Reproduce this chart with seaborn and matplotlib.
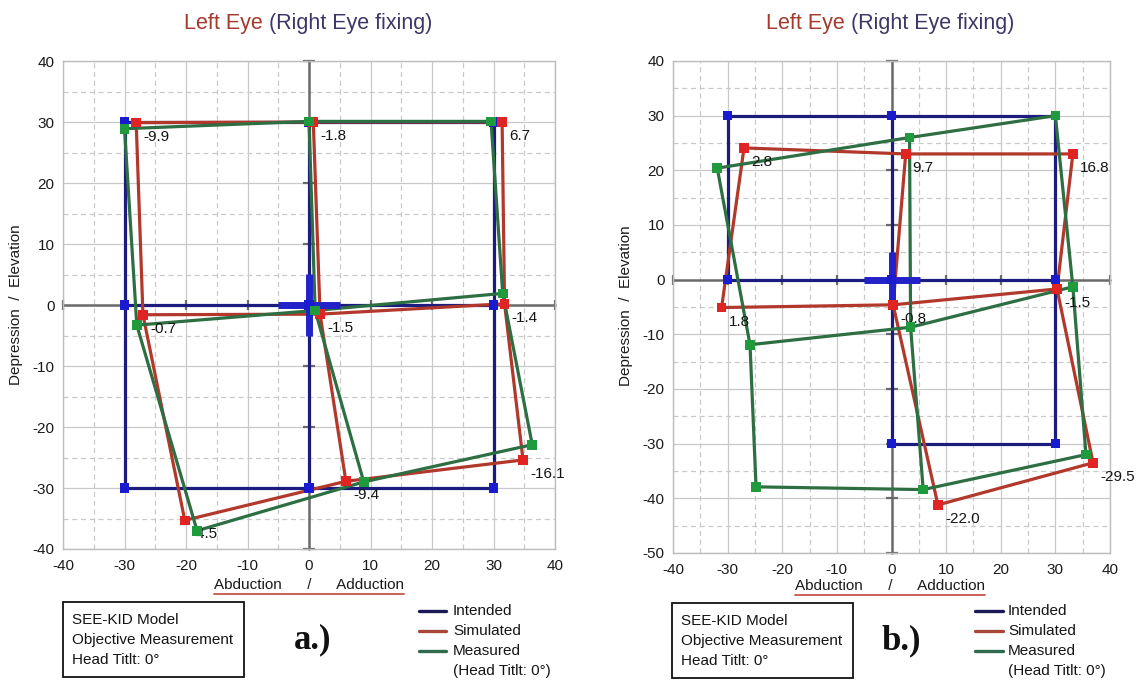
import numpy as np
import pandas as pd
import matplotlib
matplotlib.use("Agg")
import matplotlib.pyplot as plt
import seaborn as sns
from matplotlib.lines import Line2D
from matplotlib.patches import Rectangle

# ---------------- data ----------------
# 3x3 gaze-position grid, row-major: TL, TM, TR, ML, C, MR, BL, BM, BR
point_rows = [0, 0, 0, 1, 1, 1, 2, 2, 2]
point_cols = [0, 1, 2, 0, 1, 2, 0, 1, 2]
series_names = ["Intended", "Simulated", "Measured"]

a_intended_x = [-30, 0, 30, -30, 0, 30, -30, 0, 30]
a_intended_y = [30, 30, 30, 0, 0, 0, -30, -30, -30]
a_simulated_x = [-28.1, 0.7, 31.4, -27.0, 1.8, 31.8, -20.2, 6.0, 34.8]
a_simulated_y = [29.9, 30.0, 30.0, -1.6, -1.5, 0.2, -35.3, -28.9, -25.4]
a_measured_x = [-30.0, 0.0, 29.6, -28.0, 1.0, 31.5, -18.2, 8.9, 36.3]
a_measured_y = [28.9, 30.1, 30.1, -3.3, -0.9, 1.9, -37.0, -29.0, -22.9]
a_torsion = ["-9.9", "-1.8", "6.7", "-0.7", "-1.5", "-1.4", "-4.5", "-9.4", "-16.1"]

nan = np.nan
b_intended_x = [-30, 0, 30, -30, 0, 30, nan, 0, 30]
b_intended_y = [30, 30, 30, 0, 0, 0, nan, -30, -30]
b_simulated_x = [-27.0, 2.6, 33.2, -31.1, 0.3, 30.3, nan, 8.5, 36.9]
b_simulated_y = [24.1, 23.0, 23.0, -5.1, -4.6, -1.7, nan, -41.2, -33.5]
b_measured_x = [-31.9, 3.3, 30.0, -25.9, 3.5, 33.2, -24.8, 5.8, 35.6]
b_measured_y = [20.4, 26.0, 30.0, -11.9, -8.7, -1.3, -37.9, -38.4, -32.0]
b_torsion = ["2.8", "9.7", "16.8", "1.8", "-0.8", "-1.5", "", "-22.0", "-29.5"]

x_ticks = [-40, -30, -20, -10, 0, 10, 20, 30, 40]
a_y_ticks = [-40, -30, -20, -10, 0, 10, 20, 30, 40]
b_y_ticks = [-50, -40, -30, -20, -10, 0, 10, 20, 30, 40]

title_left = "Left Eye"
title_right = " (Right Eye fixing)"
x_label = "Abduction      /      Adduction"
y_label = "Depression  /  Elevation"
info_lines = ["SEE-KID Model", "Objective Measurement", "Head Titlt: 0\u00b0"]
legend_extra = "(Head Titlt: 0\u00b0)"
panel_tags = ["a.)", "b.)"]

# ---------------- style ----------------
sns.set_style("white")
plt.rcParams["font.family"] = ["Liberation Sans", "DejaVu Sans"]
plt.rcParams["axes.unicode_minus"] = False

line_colors = {"Intended": "#1c1c7e", "Simulated": "#b2382c", "Measured": "#2d6e42"}
marker_colors = {"Intended": "#1a1ad0", "Simulated": "#e02424", "Measured": "#1f9a3c"}
legend_colors = {"Intended": "#1a1a55", "Simulated": "#a8483a", "Measured": "#2f6a4c"}
axis_grey = "#6a6a6a"
grid_grey = "#c9c9c9"

W, H = 1139, 684
fig = plt.figure(figsize=(W / 100, H / 100), dpi=100)
fig.patch.set_facecolor("white")


def fx(px):
    return px / W


def fy(py):
    return 1 - py / H


def build_frame(xs_list, ys_list):
    recs = []
    for s, xs, ys in zip(series_names, xs_list, ys_list):
        for i, (x, y) in enumerate(zip(xs, ys)):
            recs.append(dict(series=s, row=point_rows[i], col=point_cols[i], x=x, y=y))
    return pd.DataFrame(recs)


def build_segments(df):
    parts = []
    for r in range(3):
        sub = df[df.row == r].sort_values(["series", "col"]).copy()
        sub["seg"] = sub["series"] + "-r%d" % r
        parts.append(sub)
    for c in range(3):
        sub = df[df.col == c].sort_values(["series", "row"]).copy()
        sub["seg"] = sub["series"] + "-c%d" % c
        parts.append(sub)
    return pd.concat(parts, ignore_index=True)


def draw_panel(rect, xs_list, ys_list, labels, yticks, cross_ms, cx):
    ax = fig.add_axes(rect)
    ax.set_facecolor("white")
    ax.set_xlim(x_ticks[0], x_ticks[-1])
    ax.set_ylim(yticks[0], yticks[-1])
    ax.set_xticks(x_ticks)
    ax.set_yticks(yticks)
    ax.set_xticks(np.arange(x_ticks[0] + 5, x_ticks[-1], 10), minor=True)
    ax.set_yticks(np.arange(yticks[0] + 5, yticks[-1], 10), minor=True)
    ax.grid(which="major", color=grid_grey, lw=0.9, zorder=0)
    ax.grid(which="minor", color=grid_grey, lw=0.9, ls=(0, (4, 3)), zorder=0)
    ax.set_axisbelow(True)
    ax.tick_params(which="both", length=0, labelsize=11, colors="#1a1a1a")
    ax.tick_params(axis="y", pad=6)
    ax.tick_params(axis="x", pad=7)
    for sp in ax.spines.values():
        sp.set_color("#bdbdbd")
        sp.set_linewidth(1.0)

    # central axes with tick marks
    ax.plot(x_ticks, [0] * len(x_ticks), color=axis_grey, lw=1.8, marker="|",
            ms=7, mew=1.6, zorder=1.5, clip_on=False)
    ax.plot([0] * len(yticks), yticks, color=axis_grey, lw=1.8, marker="_",
            ms=8, mew=1.6, zorder=1.5, clip_on=False)

    df = build_frame(xs_list, ys_list)
    seg = build_segments(df)
    for s in series_names:
        sns.lineplot(data=seg[seg.series == s], x="x", y="y", units="seg",
                     estimator=None, sort=False, color=line_colors[s], lw=2.3,
                     ax=ax, legend=False, zorder=3)
    # fixation cross at intended centre
    cen = df[(df.series == "Intended") & (df.row == 1) & (df.col == 1)]
    ax.plot(cen.x, cen.y, ls="none", marker="+", ms=cross_ms, mew=5,
            color="#2222c8", zorder=3.5)
    sns.scatterplot(data=df, x="x", y="y", hue="series", palette=marker_colors,
                    marker="s", s=48, edgecolor="none", ax=ax, legend=False,
                    zorder=6)

    sim = df[df.series == "Simulated"].reset_index(drop=True)
    for i, lab in enumerate(labels):
        if lab and np.isfinite(sim.x[i]):
            ax.annotate(lab, (sim.x[i], sim.y[i]), xytext=(7, -14),
                        textcoords="offset pixels", ha="left", va="center",
                        fontsize=11, color="#151515", zorder=4)
    ax.set_xlabel("")
    ax.set_ylabel("")
    return ax


ax_a = draw_panel([fx(63), fy(549), 492 / W, 488 / H],
                  [a_intended_x, a_simulated_x, a_measured_x],
                  [a_intended_y, a_simulated_y, a_measured_y],
                  a_torsion, a_y_ticks, 44, 308.5)
ax_b = draw_panel([fx(673), fy(553), 437 / W, 492 / H],
                  [b_intended_x, b_simulated_x, b_measured_x],
                  [b_intended_y, b_simulated_y, b_measured_y],
                  b_torsion, b_y_ticks, 40, 890)

fig.canvas.draw()
renderer = fig.canvas.get_renderer()

panels = [
    dict(cx=308.5, ylab_x=16, ylab_y=305, xlab_y=585, ul_y=594,
         box=(63, 602, 244, 677), tag_x=294, tag_y=640,
         leg_x0=419, leg_x1=446, leg_tx=453),
    dict(cx=890, ylab_x=626, ylab_y=306, xlab_y=586, ul_y=595,
         box=(672, 603, 853, 678), tag_x=882, tag_y=641,
         leg_x0=975, leg_x1=1003, leg_tx=1008),
]

for idx, p in enumerate(panels):
    # two-colour title centred on the axis origin
    t1 = fig.text(0, fy(24), title_left, fontsize=15.5, color="#a33a2c",
                  ha="left", va="center")
    t2 = fig.text(0, fy(24), title_right, fontsize=15.5, color="#3d3768",
                  ha="left", va="center")
    w1 = t1.get_window_extent(renderer).width
    w2 = t2.get_window_extent(renderer).width
    start = p["cx"] - (w1 + w2) / 2
    t1.set_x(fx(start))
    t2.set_x(fx(start + w1))

    # axis labels
    fig.text(fx(p["ylab_x"]), fy(p["ylab_y"]), y_label, rotation=90,
             fontsize=11, ha="center", va="center", color="#1a1a1a")
    xl = fig.text(fx(p["cx"]), fy(p["xlab_y"]), x_label, fontsize=11,
                  ha="center", va="center", color="#1a1a1a")
    bb = xl.get_window_extent(renderer)
    fig.add_artist(Line2D([fx(bb.x0), fx(bb.x1)], [fy(p["ul_y"]), fy(p["ul_y"])],
                          color="#c4554c", lw=1.3, transform=fig.transFigure))

    # info box
    x0, y0, x1, y1 = p["box"]
    fig.add_artist(Rectangle((fx(x0), fy(y1)), (x1 - x0) / W, (y1 - y0) / H,
                             fill=False, edgecolor="#111111", lw=1.3,
                             transform=fig.transFigure))
    for k, line in enumerate(info_lines):
        fig.text(fx(x0 + 9), fy(y0 + 18 + 20 * k), line, fontsize=11,
                 ha="left", va="center", color="#151515")

    # panel tag
    fig.text(fx(p["tag_x"]), fy(p["tag_y"]), panel_tags[idx], fontsize=25,
             fontweight="bold", family=["Liberation Serif", "DejaVu Serif"],
             ha="left", va="center", color="#111111")

    # legend
    for k, s in enumerate(series_names):
        yy = 611 + 20 * k
        fig.add_artist(Line2D([fx(p["leg_x0"]), fx(p["leg_x1"])], [fy(yy), fy(yy)],
                              color=legend_colors[s], lw=2.4,
                              transform=fig.transFigure))
        fig.text(fx(p["leg_tx"]), fy(yy), s, fontsize=11, ha="left",
                 va="center", color="#151515")
    fig.text(fx(p["leg_tx"]), fy(671), legend_extra, fontsize=11, ha="left",
             va="center", color="#151515")

fig.savefig("out.png", dpi=100, facecolor="white")
